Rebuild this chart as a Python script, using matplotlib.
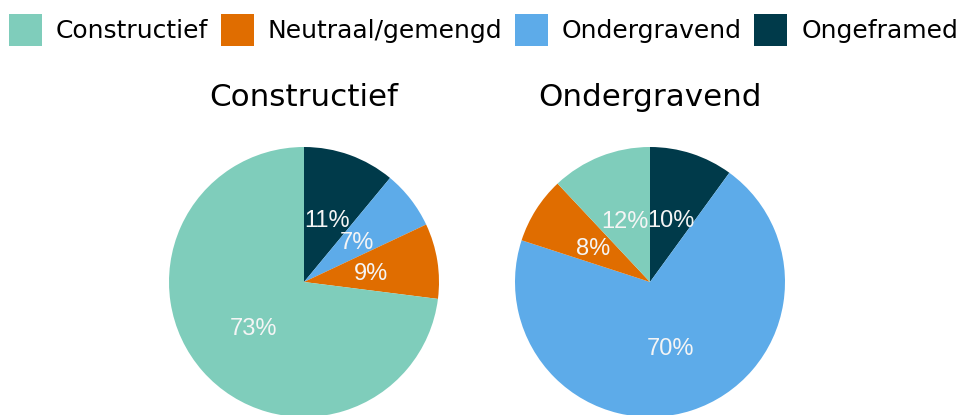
import matplotlib
matplotlib.use("Agg")
import numpy as np
import matplotlib.pyplot as plt
from matplotlib.patches import Patch
from matplotlib import font_manager

# categories in legend order
categories = ["Constructief", "Neutraal/gemengd", "Ondergravend", "Ongeframed"]
colors = ["#7fcdbb", "#e06d00", "#5dabe9", "#003a4a"]

# percentage per category, one list per panel
constructief_pct = [73, 9, 7, 11]
ondergravend_pct = [12, 8, 70, 10]
panel_titles = ["Constructief", "Ondergravend"]

fig = plt.figure(figsize=(9.61, 4.15), dpi=100)
W, H = 961, 415
R = 135  # pie radius in pixels

# pick the regular (not narrow) Liberation Sans file
label_font = None
for f in font_manager.fontManager.ttflist:
    if f.name == "Liberation Sans" and f.style == "normal" and f.weight in (400, "normal") \
            and "Narrow" not in f.fname:
        label_font = font_manager.FontProperties(fname=f.fname, size=17)
        break
if label_font is None:
    label_font = font_manager.FontProperties(family="DejaVu Sans", size=15)


def draw_pie(cx, cy, values, title):
    ax = fig.add_axes([(cx - R) / W, (H - cy - R) / H, 2 * R / W, 2 * R / H])
    # reverse so slices run clockwise from the top: Ongeframed first
    vals = values[::-1]
    cols = colors[::-1]
    wedges, texts = ax.pie(vals, colors=cols, startangle=90, counterclock=False,
                           radius=1, wedgeprops=dict(linewidth=0))
    for w, v in zip(wedges, vals):
        mid = np.deg2rad((w.theta1 + w.theta2) / 2)
        r = 0.5
        ax.text(r * np.cos(mid), r * np.sin(mid) - 0.02, f"{v}%", ha="center", va="center",
                color="#f5f5f5", fontproperties=label_font)
    ax.set_xlim(-1, 1)
    ax.set_ylim(-1, 1)
    ax.set_aspect("equal")
    ax.axis("off")
    fig.text(cx / W, 1 - 97 / H, title, ha="center", va="center", fontsize=22.3,
             family="DejaVu Sans")


draw_pie(304, 282, constructief_pct, panel_titles[0])
draw_pie(650, 282, ondergravend_pct, panel_titles[1])

handles = [Patch(facecolor=c, edgecolor="none", label=l) for c, l in zip(colors, categories)]
fig.legend(handles=handles, loc="center", bbox_to_anchor=(0.5 + 3 / W, 1 - 30 / H), ncol=4,
           frameon=False, fontsize=18, handlelength=1.32, handleheight=1.65,
           handletextpad=0.56, columnspacing=0.5, borderaxespad=0, borderpad=0)

fig.savefig("out.png", dpi=100)
